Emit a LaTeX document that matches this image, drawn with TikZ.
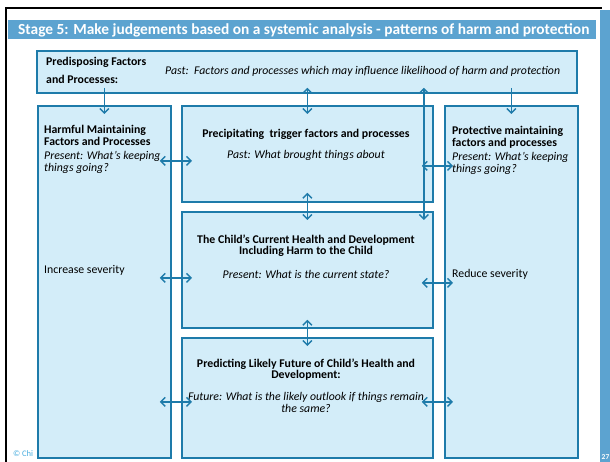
\documentclass[tikz,border=0pt]{standalone}
\usepackage{fontspec}
\setmainfont{Carlito}
\usetikzlibrary{arrows.meta,calc}
\definecolor{edge}{HTML}{1E7BAA}
\definecolor{panel}{HTML}{D3EDF9}
\definecolor{band}{HTML}{5CA3D0}
\definecolor{copyblue}{HTML}{4AAEE0}

\begin{document}
\begin{tikzpicture}[x=1pt,y=-1pt,
  panelbox/.style={draw=edge, fill=panel, line width=1.8pt, inner sep=0pt, anchor=north west},
  link/.style={draw=edge, line width=1.4pt, {Straight Barb[length=4.5pt,width=9pt]}-{Straight Barb[length=4.5pt,width=9pt]}},
  feed/.style={draw=edge, line width=1.4pt, -{Straight Barb[length=4.5pt,width=9pt]}},
  head/.style={inner sep=0pt, font=\fontsize{11.8}{12}\selectfont\bfseries},
  note/.style={inner sep=0pt, font=\fontsize{11.8}{12}\selectfont\itshape},
  plain/.style={inner sep=0pt, font=\fontsize{11.8}{12}\selectfont},
  tighthead/.style={inner sep=0pt, align=center, font=\fontsize{11.8}{9.5}\selectfont\bfseries},
  tightnote/.style={inner sep=0pt, align=center, font=\fontsize{11.8}{10}\selectfont\itshape},
]
% page and frame
\fill[white] (0,0) rectangle (610,462);
\useasboundingbox (0,0) rectangle (610,462);
\fill[band] (600,10) rectangle (610,462);
\fill[band] (8,20) rectangle (596,39);
\draw[line width=2.2pt] (6,462) -- (6,8) -- (602,8);
\node[inner sep=0pt, anchor=base west, text=white, font=\fontsize{15.4}{17}\selectfont\bfseries] (title) at (18,35)
  {Stage 5: Make judgements based on a systemic analysis - patterns of harm and protection};
\node[inner sep=0pt, anchor=base west, text=copyblue, font=\fontsize{8.5}{9}\selectfont] (copy) at (13,456) {© Chi};
\node[inner sep=0pt, anchor=base west, text=white, font=\fontsize{7.5}{8}\selectfont\bfseries] (pageno) at (601.5,459) {27};

% panels
\node[panelbox, minimum width=540pt, minimum height=42pt] (pre) at (36,50) {};
\node[panelbox, minimum width=133pt, minimum height=352pt] (harm) at (37,105) {};
\node[panelbox, minimum width=251pt, minimum height=96pt] (prec) at (181,105) {};
\node[panelbox, minimum width=251pt, minimum height=116pt] (curr) at (181,211) {};
\node[panelbox, minimum width=251pt, minimum height=120pt] (pred) at (181,337) {};
\node[panelbox, minimum width=133pt, minimum height=352pt] (prot) at (444,105) {};

% predisposing factors
\node[head, anchor=base west] (pre1) at (46,66) {Predisposing Factors};
\node[head, anchor=base west] (pre2) at (46,84) {and Processes:};
\node[note, anchor=base west] (pre3) at (165,75) {Past:\ \ Factors and processes which may influence likelihood of harm and protection};

% harmful maintaining
\node[head, anchor=base west] (h1) at (44,134) {Harmful Maintaining};
\node[head, anchor=base west] (h2) at (44,146) {Factors and Processes};
\node[note, anchor=base west] (h3) at (44,160) {Present: What’s keeping};
\node[note, anchor=base west] (h4) at (44,172) {things going?};
\node[plain, anchor=base west] (h5) at (44,273) {Increase severity};

% protective maintaining
\node[head, anchor=base west] (p1) at (452,135) {Protective maintaining};
\node[head, anchor=base west] (p2) at (452,147) {factors and processes};
\node[note, anchor=base west] (p3) at (452,161) {Present: What’s keeping};
\node[note, anchor=base west] (p4) at (452,173) {things going?};
\node[plain, anchor=base west] (p5) at (452,277) {Reduce severity};

% precipitating
\node[head, anchor=base] (t1) at (306,138) {Precipitating\ \ trigger factors and processes};
\node[note, anchor=base] (t2) at (306,159) {Past: What brought things about};

% current state
\node[tighthead, anchor=north] (c1) at (306,234.5) {The Child’s Current Health and Development\\Including Harm to the Child};
\node[note, anchor=base] (c3) at (306,278) {Present: What is the current state?};

% future
\node[tighthead, anchor=north] (f1) at (306,358.5) {Predicting Likely Future of Child’s Health and\\Development:};
\node[tightnote, anchor=north] (f3) at (306,392.5) {Future: What is the likely outlook if things remain\\the same?};

% vertical connectors
\coordinate (rv) at ([xshift=-10pt]curr.north east);
\draw[feed] ([yshift=6pt]pre.south -| harm.north) -- ([yshift=-9pt]harm.north);
\draw[link] ([yshift=6pt]pre.south -| prec.north) -- ([yshift=-9pt]prec.north);
\draw[link] ([yshift=6pt]pre.south -| rv) -- ([yshift=-9pt]rv);
\draw[feed] ([yshift=6pt]pre.south -| prot.north) -- ([yshift=-9pt]prot.north);
\draw[link] ([yshift=10pt]prec.south) -- ([yshift=-9pt]curr.north);
\draw[link] ([yshift=9pt]curr.south) -- ([yshift=-9pt]pred.north);

% horizontal connectors
\coordinate (lh1) at ($(prec.west)+(11pt,-7pt)$);
\coordinate (lh2) at ($(curr.west)+(11pt,-8pt)$);
\coordinate (lh3) at ($(pred.west)+(11pt,-4pt)$);
\coordinate (rh1) at ($(prot.west |- prec.west)+(9pt,-12pt)$);
\coordinate (rh2) at ($(prot.west |- curr.west)+(9pt,-13pt)$);
\coordinate (rh3) at ($(prot.west |- pred.west)+(9pt,-4pt)$);
\draw[link] ([xshift=-12pt]harm.east |- lh1) -- (lh1);
\draw[link] ([xshift=-12pt]harm.east |- lh2) -- (lh2);
\draw[link] ([xshift=-12pt]harm.east |- lh3) -- (lh3);
\draw[link] ([xshift=-12pt]prec.east |- rh1) -- (rh1);
\draw[link] ([xshift=-12pt]curr.east |- rh2) -- (rh2);
\draw[link] ([xshift=-12pt]pred.east |- rh3) -- (rh3);
\end{tikzpicture}
\end{document}
